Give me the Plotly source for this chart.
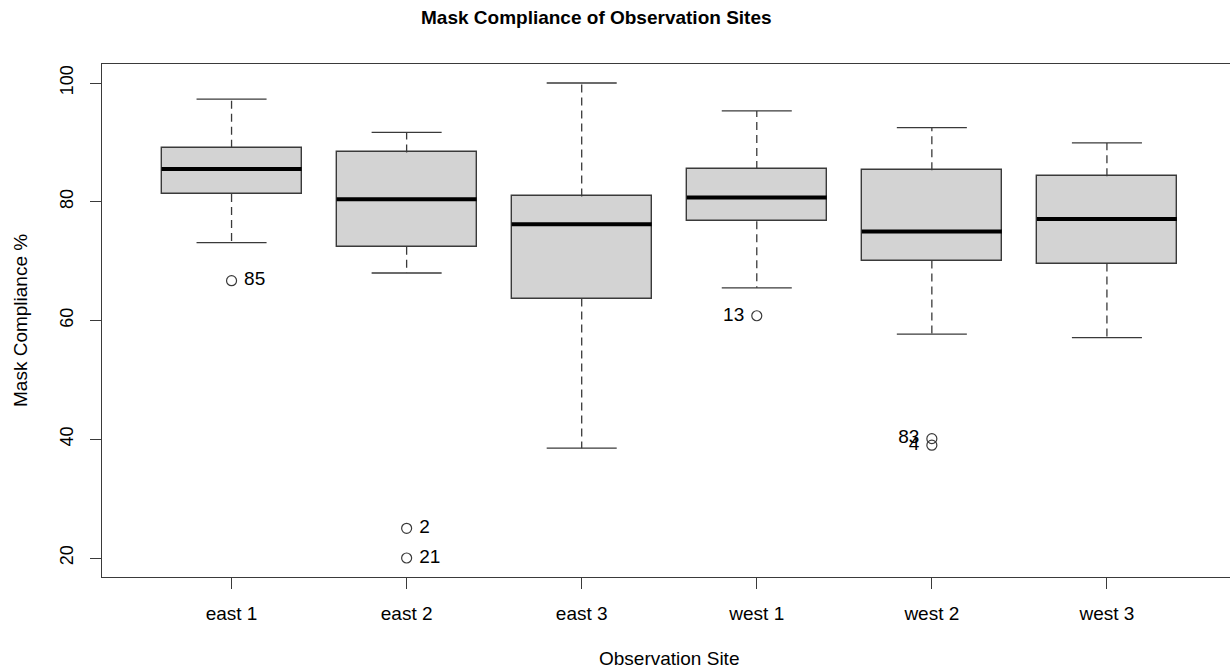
import plotly.graph_objects as go

# ---- data ----
sites = ["east 1", "east 2", "east 3", "west 1", "west 2", "west 3"]
lower_whisker = [73.1, 68.0, 38.5, 65.5, 57.7, 57.1]
q1 = [81.3, 72.4, 63.7, 76.7, 70.1, 69.6]
median = [85.5, 80.4, 76.2, 80.7, 75.0, 77.1]
q3 = [89.1, 88.3, 80.9, 85.5, 85.3, 84.3]
upper_whisker = [97.3, 91.7, 100.0, 95.3, 92.5, 89.9]

outlier_site = ["east 1", "east 2", "east 2", "west 1", "west 2", "west 2"]
outlier_value = [66.7, 25.0, 20.0, 60.8, 40.1, 39.0]
outlier_id = ["85", "2", "21", "13", "83", "4"]
outlier_side = ["right", "right", "right", "left", "left", "left"]

y_ticks = [20, 40, 60, 80, 100]

# ---- styling ----
FONT = "Liberation Sans, Arial, Helvetica, sans-serif"
LINE = "#3a3a3a"
FILL = "#d3d3d3"
BOX_HALF = 0.4
CAP_HALF = 0.2

pos = [i + 1 for i in range(len(sites))]
pos_of = dict(zip(sites, pos))

fig = go.Figure()

# boxes (Q1..Q3)
fig.add_trace(go.Bar(
    x=pos, base=q1, y=[b - a for a, b in zip(q1, q3)],
    width=2 * BOX_HALF,
    marker=dict(color=FILL, line=dict(color=LINE, width=1.4)),
    hoverinfo="skip", showlegend=False,
))

# dashed whiskers
wx, wy = [], []
for p, lo, a, b, hi in zip(pos, lower_whisker, q1, q3, upper_whisker):
    wx += [p, p, None, p, p, None]
    wy += [b, hi, None, a, lo, None]
fig.add_trace(go.Scatter(x=wx, y=wy, mode="lines",
                         line=dict(color=LINE, width=1.3, dash="8px,5px"),
                         hoverinfo="skip", showlegend=False))

# whisker caps
cx, cy = [], []
for p, lo, hi in zip(pos, lower_whisker, upper_whisker):
    cx += [p - CAP_HALF, p + CAP_HALF, None, p - CAP_HALF, p + CAP_HALF, None]
    cy += [hi, hi, None, lo, lo, None]
fig.add_trace(go.Scatter(x=cx, y=cy, mode="lines",
                         line=dict(color=LINE, width=1.3),
                         hoverinfo="skip", showlegend=False))

# medians
mx, my = [], []
for p, m in zip(pos, median):
    mx += [p - BOX_HALF, p + BOX_HALF, None]
    my += [m, m, None]
fig.add_trace(go.Scatter(x=mx, y=my, mode="lines",
                         line=dict(color="black", width=4),
                         hoverinfo="skip", showlegend=False))

# outliers with id labels
for side in ["right", "left"]:
    idx = [i for i, s in enumerate(outlier_side) if s == side]
    labels = [(" " + outlier_id[i]) if side == "right" else (outlier_id[i] + " ") for i in idx]
    fig.add_trace(go.Scatter(
        x=[pos_of[outlier_site[i]] for i in idx],
        y=[outlier_value[i] for i in idx],
        text=labels,
        mode="markers+text",
        textposition="middle " + side,
        textfont=dict(family=FONT, size=19, color="black"),
        marker=dict(symbol="circle-open", size=10, color=LINE, line=dict(width=1.2)),
        hoverinfo="skip", showlegend=False,
    ))

fig.update_layout(
    width=1230, height=670,
    margin=dict(l=102, r=0, t=64, b=93),
    paper_bgcolor="white", plot_bgcolor="white",
    font=dict(family=FONT, color="black"),
    bargap=0,
    xaxis=dict(
        range=[0.26, 6.703], tickmode="array", tickvals=pos, ticktext=sites,
        showline=True, mirror=True, linecolor=LINE, linewidth=1.3,
        ticks="outside", ticklen=11, tickcolor=LINE, tickwidth=1.3,
        showgrid=False, zeroline=False, ticklabelstandoff=8,
        tickfont=dict(family=FONT, size=19, color="black"),
    ),
    yaxis=dict(
        range=[16.8, 103.2], tickmode="array", tickvals=y_ticks,
        tickangle=-90,
        showline=True, mirror=False, linecolor=LINE, linewidth=1.3,
        ticks="outside", ticklen=11, tickcolor=LINE, tickwidth=1.3,
        showgrid=False, zeroline=False, ticklabelstandoff=10,
        tickfont=dict(family=FONT, size=18, color="black"),
    ),
    annotations=[
        dict(text="<b>Mask Compliance of Observation Sites</b>", xref="paper", yref="paper",
             x=(596.5 - 102) / 1128, y=1, yshift=47, xanchor="center", yanchor="middle",
             showarrow=False, font=dict(family=FONT, size=19, color="black")),
        dict(text="Observation Site", xref="x", yref="paper", x=3.5, y=0, yshift=-81,
             xanchor="center", yanchor="middle", showarrow=False,
             font=dict(family=FONT, size=19, color="black")),
        dict(text="Mask Compliance %", xref="paper", yref="paper",
             x=(20.5 - 102) / 1128, y=0.5, xanchor="center", yanchor="middle",
             textangle=-90, showarrow=False,
             font=dict(family=FONT, size=19, color="black")),
    ],
)

fig.write_html("out.html")
